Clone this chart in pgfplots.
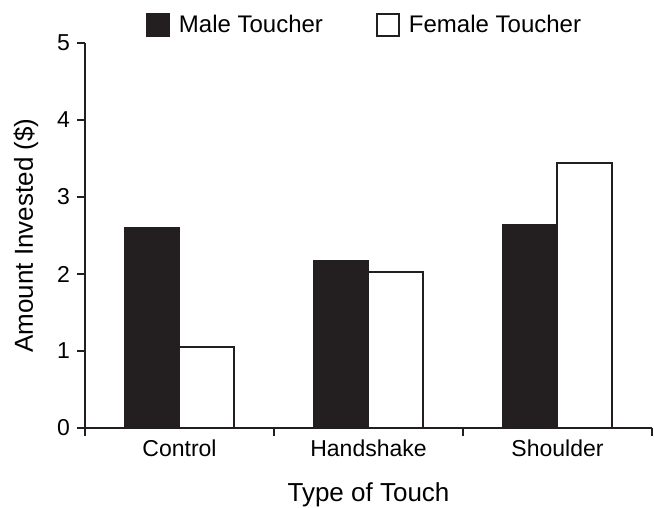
\documentclass[border=0pt]{standalone}
\usepackage{pgfplots}
\pgfplotsset{compat=1.18}
\usepackage{fontspec}
\setmainfont{Liberation Sans}
\definecolor{barblack}{HTML}{231F20}
\begin{document}
\begin{tikzpicture}
\begin{axis}[
  scale only axis,
  width=283.5pt, height=192.5pt,
  /pgf/number format/assume math mode=true,
  axis lines=left,
  axis line style={-, line width=1pt, color=barblack},
  xmin=-0.5, xmax=2.5,
  ymin=0, ymax=5,
  ytick={0,1,2,3,4,5},
  xtick={0,1,2},
  xticklabels={Control,Handshake,Shoulder},
  minor xtick={-0.5,0.5,1.5,2.5},
  tick align=outside,
  major x tick style={draw=none},
  major tick length=4pt,
  minor tick length=4pt,
  every tick/.style={line width=1pt, color=barblack},
  tick label style={font=\fontsize{11.5}{13}\selectfont},
  xticklabel style={yshift=1.5pt},
  label style={font=\fontsize{13}{15}\selectfont},
  xlabel={Type of Touch},
  ylabel={Amount Invested (\$)},
  xlabel style={at={(axis description cs:0.5,0)}, anchor=center, yshift=-33.5pt},
  ylabel style={at={(axis description cs:-0.104,0.5)}, anchor=center},
  ybar=0pt,
  bar width=0.29,
  legend style={at={(axis description cs:0.5,1)}, anchor=center, yshift=9pt, xshift=-1.5pt,
    draw=none, fill=none,
    legend columns=2, font=\fontsize{12}{14}\selectfont,
    /tikz/every odd column/.append style={column sep=2.5pt},
    /tikz/every even column/.append style={column sep=24.5pt}},
  legend image code/.code={\draw[#1, line width=1pt] (0pt,-5.5pt) rectangle (11pt,5.5pt);},
]
\addplot[fill=barblack, draw=barblack, line width=1pt] coordinates {(0,2.60) (1,2.17) (2,2.64)};
\addplot[fill=white, draw=barblack, line width=1pt] coordinates {(0,1.05) (1,2.03) (2,3.44)};
\legend{Male Toucher, Female Toucher}
\end{axis}
\pgfresetboundingbox
\path (current axis.south west) ++(-42.5pt,-40pt) rectangle ++(327pt,254pt);
\end{tikzpicture}
\end{document}
